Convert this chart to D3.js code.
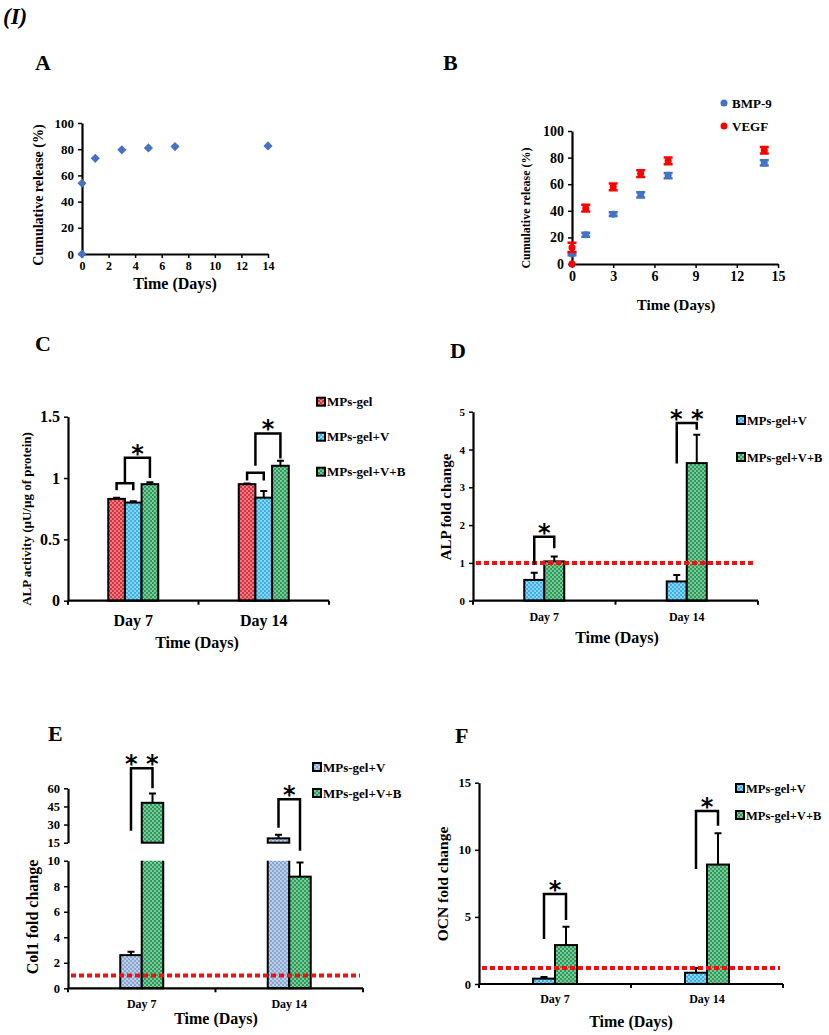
<!DOCTYPE html>
<html>
<head>
<meta charset="utf-8">
<script src="https://cdn.jsdelivr.net/npm/d3@7"></script>
<style>
body { margin: 0; background: #fff; }
text { font-family: "Liberation Serif", "Times New Roman", serif; font-weight: bold; fill: #000; }
</style>
</head>
<body>
<svg id="fig" width="829" height="1035"></svg>
<script>
'use strict';

// ---- data ----
var daysA = [0, 0, 1, 3, 5, 7, 14],
    releaseA = [0, 54, 73, 79.5, 81, 82, 82.5];

var daysB = [0, 0, 1, 3, 5, 7, 14],
    bmp9 = [0, 7.5, 22, 37.5, 52, 66.5, 76],
    bmp9Err = [0, 1, 1.5, 1.5, 2, 2, 2],
    vegf = [0, 12.5, 42, 58, 68, 77.5, 85.5],
    vegfErr = [0, 3.5, 2.5, 2.5, 2.5, 2.5, 2.5];

var days = ["Day 7", "Day 14"];

var alpGel = [0.83, 0.95], alpGelErr = [0.01, 0.005],
    alpV   = [0.80, 0.84], alpVErr   = [0.01, 0.055],
    alpVB  = [0.95, 1.10], alpVBErr  = [0.015, 0.04];

var alpFoldV  = [0.55, 0.51], alpFoldVErr  = [0.19, 0.17],
    alpFoldVB = [1.04, 3.64], alpFoldVBErr = [0.13, 0.75];

var col1V  = [2.6, 18.6], col1VErr  = [0.26, 3],
    col1VB = [48, 8.75],  col1VBErr = [7.8, 1.1];

var ocnV  = [0.4, 0.84], ocnVErr  = [0.12, 0.36],
    ocnVB = [2.9, 8.9],  ocnVBErr = [1.37, 2.33];

// significance brackets: series a -> b (fractional = between bars), heights in data units
var sigC = [
  {day: 0, a: 0,   b: 1, top: 0.957, ya: 0.90,  yb: 0.90, star: ""},
  {day: 0, a: 0.5, b: 2, top: 1.166, ya: 0.957, yb: 1.00, star: "*"},
  {day: 1, a: 0,   b: 1, top: 1.043, ya: 0.98,  yb: 0.98, star: ""},
  {day: 1, a: 0.5, b: 2, top: 1.364, ya: 1.10,  yb: 1.16, star: "*"}
];
var sigD = [
  {day: 0, a: 0, b: 1, top: 1.69, ya: 0.95, yb: 1.39, star: "*"},
  {day: 1, a: 0, b: 1, top: 4.70, ya: 3.63, yb: 4.52, star: "* *"}
];
var sigE = [
  {day: 0, a: 0, b: 1, top: 76.6, ya: 24.9, yb: 60,  star: "* *"},
  {day: 1, a: 0, b: 1, top: 50.9, ya: 27.4, yb: 8.4, star: "*"}
];
var sigF = [
  {day: 0, a: 0, b: 1, top: 6.7,  ya: 3.35, yb: 4.77, star: "*"},
  {day: 1, a: 0, b: 1, top: 12.9, ya: 8.57, yb: 11.8, star: "*"}
];

var refD = 1, refE = 1, refF = 1.2;

var legC = ["MPs-gel", "MPs-gel+V", "MPs-gel+V+B"],
    legFold = ["MPs-gel+V", "MPs-gel+V+B"];

// ---- drawing ----
var svg = d3.select("#fig");
var defs = svg.append("defs");

function pattern(id, base, dot) {
  var p = defs.append("pattern").attr("id", id)
      .attr("width", 4).attr("height", 4)
      .attr("patternUnits", "userSpaceOnUse");
  p.append("rect").attr("width", 4).attr("height", 4).attr("fill", base);
  p.append("circle").attr("cx", 1).attr("cy", 1).attr("r", 0.9).attr("fill", dot);
  p.append("circle").attr("cx", 3).attr("cy", 3).attr("r", 0.9).attr("fill", dot);
}
pattern("pRed",   "#d8303c", "#f4a2aa");
pattern("pCyan",  "#38b2e4", "#b4e4f6");
pattern("pGreen", "#2a9c5a", "#a6dcb8");
pattern("pBlue",  "#86a6d0", "#d8e4f4");

var fmt = function(d) { return String(d); };

function txt(t, x, y, size, anchor) {
  return svg.append("text").attr("x", x).attr("y", y)
      .attr("font-size", size).attr("text-anchor", anchor || "start").text(t);
}
function vtitle(t, cx, cy, size) {
  svg.append("text")
      .attr("transform", "translate(" + cx + "," + cy + ") rotate(-90)")
      .attr("text-anchor", "middle").attr("dy", "0.35em")
      .attr("font-size", size).text(t);
}
function yAxis(scale, x, ticks, size) {
  var g = svg.append("g")
      .attr("transform", "translate(" + x + ",0)")
      .call(d3.axisLeft(scale).tickValues(ticks).tickFormat(fmt)
            .tickSize(4).tickSizeOuter(0).tickPadding(4));
  g.attr("font-size", size).attr("font-family", null);
  g.select(".domain").attr("stroke-width", 2.2);
  g.selectAll(".tick line").attr("stroke-width", 1.5);
  return g;
}
function xAxisLin(scale, y, ticks, size) {
  var g = svg.append("g")
      .attr("transform", "translate(0," + y + ")")
      .call(d3.axisBottom(scale).tickValues(ticks).tickFormat(fmt)
            .tickSize(4).tickSizeOuter(0).tickPadding(3));
  g.attr("font-size", size).attr("font-family", null);
  g.select(".domain").attr("stroke-width", 2.2);
  g.selectAll(".tick line").attr("stroke-width", 1.5);
}
function bandAxis(x, y0, size, dy) {
  var r = x.range();
  svg.append("line").attr("x1", r[0]).attr("x2", r[1]).attr("y1", y0).attr("y2", y0)
      .attr("stroke", "#000").attr("stroke-width", 2.2);
  var edges = [r[0]].concat(x.domain().map(function(d) { return x(d) + x.step(); }));
  svg.selectAll(null).data(edges).enter().append("line")
      .attr("x1", function(d) { return d; }).attr("x2", function(d) { return d; })
      .attr("y1", y0).attr("y2", y0 + 4)
      .attr("stroke", "#000").attr("stroke-width", 2);
  svg.selectAll(null).data(x.domain()).enter().append("text")
      .attr("x", function(d) { return x(d) + x.bandwidth() / 2; })
      .attr("y", y0 + dy).attr("text-anchor", "middle").attr("font-size", size)
      .text(function(d) { return d; });
}
function barX(x, inner, day, si) {
  return x(days[day]) + x.bandwidth() / 2 + inner.range()[0] + (si + 0.5) * inner.bandwidth();
}
function errBar(cx, y0, y1, cap) {
  svg.append("path")
      .attr("d", "M" + cx + "," + y0 + "V" + y1 + "M" + (cx - cap) + "," + y1 + "H" + (cx + cap))
      .attr("stroke", "#000").attr("stroke-width", 2).attr("fill", "none");
}
function bars(x, y, series, groupW) {
  var inner = d3.scaleBand().domain(d3.range(series.length)).range([-groupW / 2, groupW / 2]);
  series.forEach(function(s, si) {
    svg.selectAll(null).data(s.vals).enter().append("rect")
        .attr("x", function(d, i) { return x(days[i]) + x.bandwidth() / 2 + inner(si); })
        .attr("y", function(d) { return y(d); })
        .attr("width", inner.bandwidth())
        .attr("height", function(d) { return y(0) - y(d); })
        .attr("fill", "url(#" + s.fill + ")")
        .attr("stroke", "#000").attr("stroke-width", 2);
    s.vals.forEach(function(v, i) {
      errBar(barX(x, inner, i, si), y(v), y(v + s.errs[i]), 3.5);
    });
  });
  return inner;
}
function brackets(x, inner, y, sig, starSize) {
  sig.forEach(function(b) {
    var xa = barX(x, inner, b.day, b.a), xb = barX(x, inner, b.day, b.b);
    svg.append("path")
        .attr("d", "M" + xa + "," + y(b.ya) + "V" + y(b.top) + "H" + xb + "V" + y(b.yb))
        .attr("stroke", "#000").attr("stroke-width", 2.5).attr("fill", "none");
    if (b.star) {
      svg.append("text").attr("x", (xa + xb) / 2).attr("y", y(b.top) + 4)
          .attr("text-anchor", "middle").attr("font-size", starSize)
          .style("font-family", "DejaVu Sans").style("font-weight", "bold")
          .text(b.star);
    }
  });
}
function refLine(x, y, v) {
  var r = x.range();
  svg.append("line").attr("x1", r[0] + 3).attr("x2", r[1] - 3)
      .attr("y1", y(v)).attr("y2", y(v))
      .attr("stroke", "#ee1111").attr("stroke-width", 4).attr("stroke-dasharray", "5,3");
}
function legend(labels, fills, x, ys, size) {
  labels.forEach(function(l, i) {
    svg.append("rect").attr("x", x).attr("y", ys[i] - 4).attr("width", 8).attr("height", 8)
        .attr("fill", "url(#" + fills[i] + ")").attr("stroke", "#000").attr("stroke-width", 2);
    txt(l, x + 10, ys[i] + 4.5, size);
  });
}

// figure tag
txt("(I)", 3, 24, 23).attr("font-style", "italic");

// ---- A ----
txt("A", 35, 70, 22);
var xA = d3.scaleLinear().domain([0, 14]).range([82, 268]),
    yA = d3.scaleLinear().domain([0, 100]).range([254, 123]);
yAxis(yA, 82, d3.range(0, 101, 20), 13);
xAxisLin(xA, 254, d3.range(0, 15, 2), 12);
svg.selectAll(null).data(releaseA).enter().append("path")
    .attr("transform", function(d, i) { return "translate(" + xA(daysA[i]) + "," + yA(d) + ") rotate(45)"; })
    .attr("d", d3.symbol(d3.symbolSquare, 42))
    .attr("fill", "#4472c4");
txt("Time (Days)", 175, 289, 16, "middle");
vtitle("Cumulative release (%)", 38, 195, 14);

// ---- B ----
txt("B", 443, 70, 22);
var xB = d3.scaleLinear().domain([0, 15]).range([572, 778]),
    yB = d3.scaleLinear().domain([0, 100]).range([264, 131]);
yAxis(yB, 572, d3.range(0, 101, 20), 14);
xAxisLin(xB, 264, d3.range(0, 16, 3), 14);
[{v: bmp9, e: bmp9Err, c: "#4472c4"}, {v: vegf, e: vegfErr, c: "#ff0000"}].forEach(function(s) {
  s.v.forEach(function(d, i) {
    var cx = xB(daysB[i]);
    if (s.e[i] > 0) {
      svg.append("path")
          .attr("d", "M" + cx + "," + yB(d - s.e[i]) + "V" + yB(d + s.e[i]) +
                "M" + (cx - 4.5) + "," + yB(d - s.e[i]) + "h9" +
                "M" + (cx - 4.5) + "," + yB(d + s.e[i]) + "h9")
          .attr("stroke", s.c).attr("stroke-width", 2.5).attr("fill", "none");
    }
    svg.append("circle").attr("cx", cx).attr("cy", yB(d)).attr("r", 3.5).attr("fill", s.c);
  });
});
svg.append("circle").attr("cx", 724).attr("cy", 103).attr("r", 3.5).attr("fill", "#4472c4");
svg.append("circle").attr("cx", 724).attr("cy", 126).attr("r", 3.5).attr("fill", "#ff0000");
txt("BMP-9", 732, 108, 13);
txt("VEGF", 732, 131, 13);
txt("Time (Days)", 676, 310, 15, "middle");
vtitle("Cumulative release (%)", 526, 208, 12);

// ---- C ----
txt("C", 35, 351, 22);
var xC = d3.scaleBand().domain(days).range([68, 329]),
    yC = d3.scaleLinear().domain([0, 1.5]).range([600.7, 416.7]);
var innerC = bars(xC, yC, [
  {vals: alpGel, errs: alpGelErr, fill: "pRed"},
  {vals: alpV, errs: alpVErr, fill: "pCyan"},
  {vals: alpVB, errs: alpVBErr, fill: "pGreen"}], 50);
yAxis(yC, 68, [0, 0.5, 1, 1.5], 16);
bandAxis(xC, 600.7, 16, 25);
brackets(xC, innerC, yC, sigC, 24);
legend(legC, ["pRed", "pCyan", "pGreen"], 317, [401.7, 436.7, 471.7], 13);
txt("Time (Days)", 197, 648, 16, "middle");
vtitle("ALP activity (\u00b5U/\u00b5g of protein)", 26, 519, 13);

// ---- D ----
txt("D", 450, 358, 22);
var xD = d3.scaleBand().domain(days).range([473, 758]),
    yD = d3.scaleLinear().domain([0, 5]).range([600.7, 411.7]);
var innerD = bars(xD, yD, [
  {vals: alpFoldV, errs: alpFoldVErr, fill: "pCyan"},
  {vals: alpFoldVB, errs: alpFoldVBErr, fill: "pGreen"}], 40);
refLine(xD, yD, refD);
yAxis(yD, 473, d3.range(0, 6), 11);
bandAxis(xD, 600.7, 12, 20);
brackets(xD, innerD, yD, sigD, 24);
legend(legFold, ["pCyan", "pGreen"], 737, [420, 457], 12.5);
txt("Time (Days)", 617, 643, 16, "middle");
vtitle("ALP fold change", 446, 507, 15);

// ---- E (broken axis) ----
txt("E", 48, 741, 22);
var xE = d3.scaleBand().domain(days).range([68, 363]),
    yELow = d3.scaleLinear().domain([0, 10]).range([988.3, 860.7]),
    yEHigh = d3.scaleLinear().domain([15, 60]).range([842.7, 788.3]);
var innerE = d3.scaleBand().domain([0, 1]).range([-21.5, 21.5]);
[{vals: col1V, errs: col1VErr, fill: "pBlue"},
 {vals: col1VB, errs: col1VBErr, fill: "pGreen"}].forEach(function(s, si) {
  s.vals.forEach(function(v, i) {
    var x0 = xE(days[i]) + xE.bandwidth() / 2 + innerE(si), w = innerE.bandwidth(),
        cx = x0 + w / 2;
    if (v <= 10) {
      svg.append("rect").attr("x", x0).attr("y", yELow(v)).attr("width", w)
          .attr("height", yELow(0) - yELow(v)).attr("fill", "url(#" + s.fill + ")")
          .attr("stroke", "#000").attr("stroke-width", 2);
      errBar(cx, yELow(v), yELow(v + s.errs[i]), 3.5);
    } else {
      // lower part cut at the axis break, no top edge
      svg.append("rect").attr("x", x0).attr("y", yELow(10)).attr("width", w)
          .attr("height", yELow(0) - yELow(10)).attr("fill", "url(#" + s.fill + ")");
      svg.append("path")
          .attr("d", "M" + x0 + "," + yELow(10) + "V" + yELow(0) + "H" + (x0 + w) + "V" + yELow(10))
          .attr("stroke", "#000").attr("stroke-width", 2).attr("fill", "none");
      svg.append("rect").attr("x", x0).attr("y", yEHigh(v)).attr("width", w)
          .attr("height", yEHigh(15) - yEHigh(v)).attr("fill", "url(#" + s.fill + ")")
          .attr("stroke", "#000").attr("stroke-width", 2);
      errBar(cx, yEHigh(v), yEHigh(v + s.errs[i]), 3.5);
    }
  });
});
refLine(xE, yELow, refE);
yAxis(yELow, 68, d3.range(0, 11, 2), 12.5);
yAxis(yEHigh, 68, [15, 30, 45, 60], 12.5);
bandAxis(xE, 988.3, 12, 20);
brackets(xE, innerE, yEHigh, sigE, 24);
legend(legFold, ["pBlue", "pGreen"], 313, [767, 793], 13);
txt("Time (Days)", 216, 1024, 16, "middle");
vtitle("Col1 fold change", 32, 917, 16);

// ---- F ----
txt("F", 455, 743, 22);
var xF = d3.scaleBand().domain(days).range([479, 783]),
    yF = d3.scaleLinear().domain([0, 15]).range([984, 782.7]);
var innerF = bars(xF, yF, [
  {vals: ocnV, errs: ocnVErr, fill: "pCyan"},
  {vals: ocnVB, errs: ocnVBErr, fill: "pGreen"}], 44);
refLine(xF, yF, refF);
yAxis(yF, 479, [0, 5, 10, 15], 12.5);
bandAxis(xF, 984, 12, 19);
brackets(xF, innerF, yF, sigF, 24);
legend(legFold, ["pCyan", "pGreen"], 736, [788, 815], 12.5);
txt("Time (Days)", 631, 1027, 16, "middle");
vtitle("OCN fold change", 443, 884, 15.5);
</script>
</body>
</html>
